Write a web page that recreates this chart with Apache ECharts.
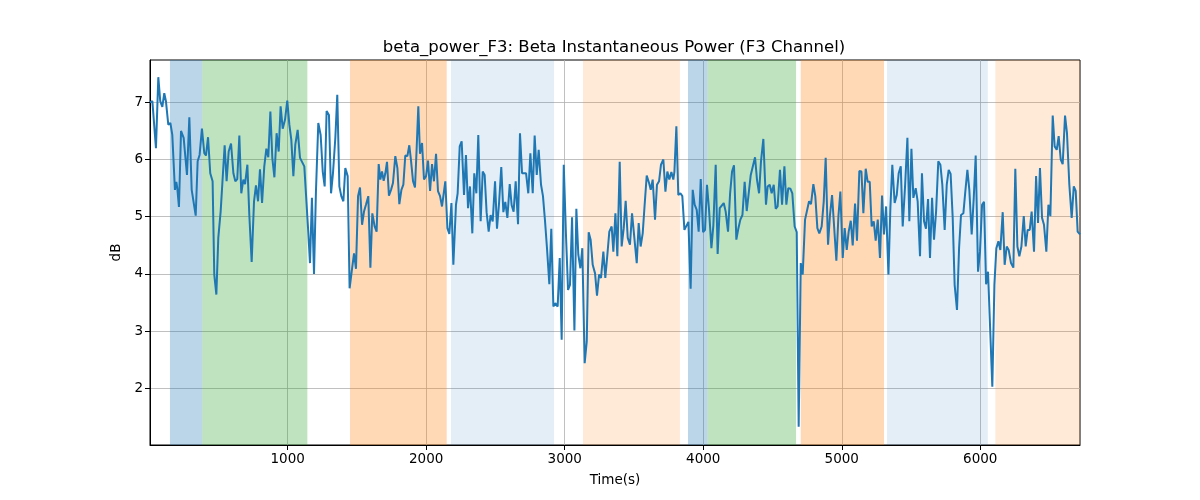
<!DOCTYPE html>
<html>
<head>
<meta charset="utf-8">
<script src="https://cdn.jsdelivr.net/npm/echarts@6/dist/echarts.min.js"></script>
<style>html,body{margin:0;padding:0;background:#fff}#c{width:1200px;height:500px}</style>
</head>
<body>
<div id="c"></div>
<script>
// ---- data ----
const timeSec = [
6,13,23,49,66,80,95,109,121,138,153,167,186,196,203,215,230,249,273,290,307,336,350,364,381,398,410,425,441,458,470,485,499,516,530,545,559,574,591,608,622,636,651,665,680,692,709,723,740,757,771,786,800,815,831,846,860,875,889,904,920,935,949,964,981,997,1012,1026,1041,1055,1072,1089,1101,
1120,1132,1147,1161,1175,1190,1204,1221,1238,1253,1267,1281,1298,1313,1327,1344,1358,1373,1387,1402,1416,1433,1447,1462,1479,1493,1508,1522,1537,1551,1565,1582,1597,1611,1628,1642,1657,1669,1681,1693,1705,1717,1731,1746,1760,1777,1792,1806,1821,1835,1849,1864,1878,1890,1905,1919,1931,1943,1955,1970,1984,1999,2013,2028,2042,2056,2071,2085,2100,2114,2124,2138,2153,2167,2182,2196,
2215,2227,2242,2256,2273,2287,2302,2316,2333,2347,2362,2376,2393,2408,2422,2436,2451,2465,2480,2497,2511,2526,2542,2557,2571,2586,2603,2617,2631,2646,2663,2677,2692,2706,2721,2737,2752,2769,2783,2798,2812,2829,2843,2858,2872,2889,2903,2918,2932,2949,2964,2978,2993,3009,3024,3038,3053,3070,3084,3098,3113,3127,3144,3159,3173,3187,3202,3219,3233,3248,3262,3279,3293,3308,3322,
3339,3351,3366,3380,3397,3411,3426,3440,3455,3471,3486,3500,3520,3534,3548,3563,3577,3592,3609,3621,3635,3652,3666,3681,3695,3712,3727,3741,3755,3770,3784,3792,3806,3820,3835,3849,3864,3878,3893,3909,3924,3938,3953,3967,3982,3999,4013,4027,4042,4059,4073,4090,4104,4119,4133,4148,4162,4179,4194,4208,4222,4239,4254,4268,4283,4299,4314,4328,4343,4357,4374,4388,4403,4417,4434,
4453,4465,4480,4494,4509,4523,4537,4554,4569,4586,4600,4614,4629,4643,4660,4675,4689,4704,4718,4735,4749,4764,4778,4795,4809,4824,4838,4855,4870,4884,4901,4915,4930,4944,4961,4976,4990,5007,5021,5036,5050,5065,5079,5096,5110,5127,5142,5156,5173,5187,5202,5216,5231,5245,5260,5276,5291,5305,5320,5337,5351,5365,5382,5397,5411,5426,5440,5457,5474,5488,5503,5517,5534,5548,
5565,5579,5594,5608,5623,5637,5652,5666,5681,5697,5712,5726,5743,5758,5772,5786,5801,5815,5832,5847,5861,5878,5892,5907,5921,5938,5953,5967,5984,5998,6013,6027,6042,6056,6070,6087,6102,6116,6131,6145,6162,6176,6191,6205,6222,6239,6253,6268,6282,6297,6314,6328,6342,6357,6371,6388,6403,6417,6431,6446,6460,6477,6492,6506,6523,6537,6552,6566,6581,6595,6612,6626,6643,6660,6675,6689,6703,6720
];
const betaDb = [
7.00,7.03,7.02,6.20,7.44,7.02,6.92,7.16,7.02,6.61,6.64,6.43,5.47,5.61,5.50,5.17,6.50,6.38,5.73,6.74,5.47,5.02,5.97,6.08,6.54,6.11,6.07,6.39,5.76,5.62,3.99,3.64,4.63,5.09,5.65,6.25,5.62,6.14,6.28,5.76,5.62,5.66,6.42,5.41,5.65,5.57,5.91,5.03,4.21,5.27,5.55,5.27,5.83,5.24,5.88,6.19,6.04,6.84,6.03,5.69,6.46,6.14,6.93,6.54,6.70,7.03,6.61,6.35,5.71,6.26,6.52,6.03,6.06,
5.88,5.88,4.80,4.19,5.33,4.00,5.44,6.64,6.43,5.79,5.53,6.85,6.78,5.41,5.76,6.38,7.13,5.53,5.36,5.27,5.85,5.71,3.75,4.04,4.36,4.09,5.36,5.51,4.86,5.09,5.21,5.36,4.11,5.06,4.83,4.74,5.92,5.65,5.79,5.63,5.76,5.96,5.37,5.47,5.59,6.06,5.85,5.22,5.47,5.56,6.07,6.06,6.25,5.99,5.62,5.51,6.19,6.93,6.10,6.29,5.65,5.71,5.98,5.45,5.92,5.62,6.10,5.45,5.36,5.18,5.21,5.62,4.80,4.70,5.24,4.16,
5.21,5.41,6.23,6.32,5.38,6.08,5.15,5.53,4.71,5.76,5.41,6.43,4.92,5.79,5.73,5.08,4.74,5.03,4.92,5.62,4.79,5.24,5.87,5.08,5.26,4.98,5.57,5.20,5.09,5.62,4.87,6.46,5.76,5.73,5.76,5.41,6.11,5.41,6.42,5.73,6.17,5.56,5.36,4.92,4.45,3.82,4.79,3.43,3.49,3.43,4.28,2.85,5.91,4.69,3.72,3.81,4.99,3.01,5.14,4.34,4.10,4.45,2.44,2.82,4.73,4.60,4.16,4.01,3.62,3.99,3.93,4.39,3.93,4.34,4.74,
4.83,4.39,5.06,4.31,5.96,4.48,4.80,5.28,4.63,4.51,5.06,5.03,4.19,4.89,4.48,4.71,5.21,5.72,5.59,5.47,5.65,4.95,5.56,5.62,5.91,6.00,5.44,5.79,5.65,5.78,5.65,5.79,6.58,5.38,5.41,5.36,4.77,4.77,4.91,3.74,5.47,5.21,5.12,4.74,5.66,4.73,4.77,5.56,5.12,4.45,4.85,5.91,4.35,5.15,5.15,5.24,5.09,4.74,5.41,5.79,5.90,4.60,4.80,4.95,5.03,5.61,5.10,5.10,5.73,5.73,6.04,5.65,5.41,5.97,6.36,
5.21,5.53,5.56,5.41,5.56,5.14,5.18,5.82,5.21,5.88,5.21,5.50,5.49,5.41,4.83,4.73,1.33,4.19,3.99,4.95,4.97,5.27,5.22,5.57,5.36,4.80,4.71,4.83,5.27,6.03,4.51,5.03,5.38,5.41,4.23,5.01,5.44,4.28,4.80,4.42,4.74,4.93,4.50,5.23,4.58,5.80,5.79,5.06,5.84,5.61,5.61,4.83,4.92,4.58,4.95,4.28,5.37,4.69,5.18,3.99,5.15,5.91,5.24,5.38,5.76,5.88,4.83,5.53,6.38,4.92,6.19,5.33,5.50,5.27,
4.31,5.76,4.92,4.79,5.31,4.28,5.33,4.60,5.09,5.97,5.91,5.56,4.77,5.56,5.82,5.75,4.98,3.81,3.37,4.45,5.03,5.06,5.44,5.82,5.47,4.69,5.33,6.07,4.04,4.39,5.21,5.26,3.82,4.04,4.06,2.03,3.81,4.45,4.57,4.42,5.08,4.16,4.48,4.42,4.19,4.11,5.84,4.48,4.31,4.48,5.01,4.48,4.77,4.77,5.09,4.39,5.71,4.89,5.85,4.98,4.86,4.39,5.21,5.01,6.77,6.23,6.17,6.41,6.00,5.92,6.77,6.46,5.56,4.98,5.53,5.45,4.74,4.69
];
const bandStart = [150, 383, 1450, 2179, 3132, 3890, 4030, 4704, 5327, 6109];
const bandEnd   = [383, 1142, 2148, 2923, 3832, 4030, 4670, 5305, 6054, 6720];
const bandKind  = ['blue','green','orange','lightblue','lightorange','blue','green','orange','lightblue','lightorange'];
const xTicks = [1000, 2000, 3000, 4000, 5000, 6000];
const yTicks = [2, 3, 4, 5, 6, 7];
const titleText = 'beta_power_F3: Beta Instantaneous Power (F3 Channel)';

// ---- styles ----
const kindColor = {
  blue: 'rgba(31,119,180,0.3)',
  green: 'rgba(44,160,44,0.3)',
  orange: 'rgba(255,127,14,0.3)',
  lightblue: 'rgba(31,119,180,0.12)',
  lightorange: 'rgba(255,127,14,0.16)'
};
const FONT = 'DejaVu Sans';

const lineData = timeSec.map((t, i) => [t, betaDb[i]]);
const areas = bandStart.map((s, i) => [
  { xAxis: s, itemStyle: { color: kindColor[bandKind[i]] } },
  { xAxis: bandEnd[i] }
]);

const chart = echarts.init(document.getElementById('c'), null, { renderer: 'canvas' });
chart.setOption({
  animation: false,
  backgroundColor: '#fff',
  title: {
    text: titleText, left: 609, top: 34, textAlign: 'center',
    textStyle: { fontFamily: FONT, fontSize: 16.5, fontWeight: 'normal', color: '#000' }
  },
  grid: { left: 150, right: 120, top: 60, bottom: 55, show: true, borderColor: '#000', borderWidth: 1, backgroundColor: 'transparent' },
  xAxis: {
    type: 'value', min: 6, max: 6720,
    name: 'Time(s)', nameLocation: 'middle', nameGap: 28,
    nameTextStyle: { fontFamily: FONT, fontSize: 13.5, color: '#000' },
    axisLine: { show: true, lineStyle: { color: '#000', width: 1 } },
    axisTick: { show: true, length: 5, lineStyle: { color: '#000' }, customValues: xTicks },
    axisLabel: { fontFamily: FONT, fontSize: 13.5, color: '#000', margin: 7, customValues: xTicks, formatter: v => String(v) },
    splitLine: { show: true, lineStyle: { color: '#b0b0b0', width: 0.8 } }
  },
  yAxis: {
    type: 'value', min: 1.01, max: 7.74,
    name: 'dB', nameLocation: 'middle', nameGap: 25, nameRotate: 90,
    nameTextStyle: { fontFamily: FONT, fontSize: 13.5, color: '#000' },
    axisLine: { show: true, lineStyle: { color: '#000', width: 1 } },
    axisTick: { show: true, length: 5, lineStyle: { color: '#000' }, customValues: yTicks },
    axisLabel: { fontFamily: FONT, fontSize: 13.5, color: '#000', margin: 7, customValues: yTicks, formatter: v => String(v) },
    splitLine: { show: true, lineStyle: { color: '#b0b0b0', width: 0.8 } }
  },
  series: [
    {
      type: 'line', data: [], silent: true, z: 1,
      markArea: { silent: true, data: areas }
    },
    {
      type: 'line', data: lineData, z: 3, showSymbol: false, silent: true,
      lineStyle: { color: '#1f77b4', width: 2 }, itemStyle: { color: '#1f77b4' }
    }
  ]
});
</script>
</body>
</html>
